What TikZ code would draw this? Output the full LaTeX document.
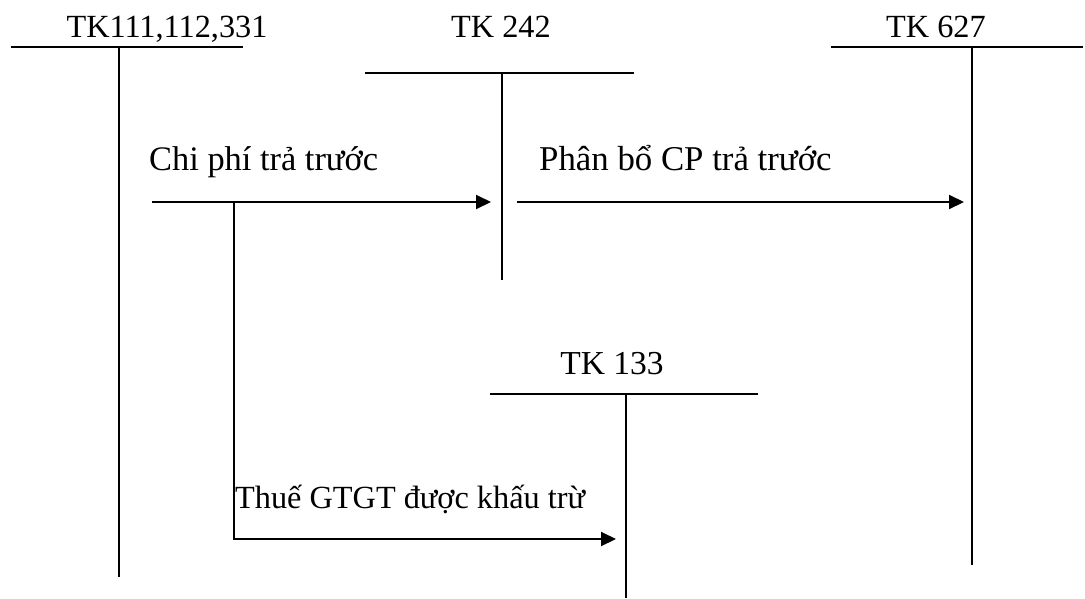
\documentclass[tikz,border=0pt]{standalone}
\usepackage{fontspec}
\setmainfont{Liberation Serif}
\usetikzlibrary{arrows.meta}
\tikzset{
  acct/.style={line width=2pt},
  flow/.style={line width=2pt,-{Triangle[length=15pt,width=14pt]}},
  lbl/.style={anchor=base,inner sep=0pt,font=\fontsize{32.3}{38}\selectfont},
  lblw/.style={anchor=base west,inner sep=0pt,font=\fontsize{32.3}{38}\selectfont}
}
\begin{document}
\begin{tikzpicture}[x=1pt,y=-1pt]
\useasboundingbox (0,0) rectangle (1085,598);
% account titles
\node[lbl] (t111) at (167,37) {TK111,112,331};
\node[lbl] (t242) at (501,37) {TK 242};
\node[lbl] (t627) at (936,37) {TK 627};
\node[lbl,font=\fontsize{33.5}{38}\selectfont] (t133) at (612,374) {TK 133};
% T-accounts
\draw[acct] (11,47) -- (243,47);
\draw[acct] (119,47) -- (119,577);
\draw[acct] (365,73) -- (634,73);
\draw[acct] (502,73) -- (502,280);
\draw[acct] (831,47) -- (1083,47);
\draw[acct] (972,47) -- (972,565);
\draw[acct] (490,394) -- (758,394);
\draw[acct] (626,394) -- (626,598);
% connector end points
\coordinate (a1s) at (152,202);
\coordinate (a1e) at (491,202);
\coordinate (a2s) at (517,202);
\coordinate (a2e) at (964,202);
\coordinate (br) at (234,202);
\coordinate (a3e) at (616,539);
% connectors
\draw[flow] (a1s) -- (a1e);
\draw[flow] (a2s) -- (a2e);
\draw[flow] (br) |- (a3e);
% connector labels
\node[lblw,font=\fontsize{34.4}{40}\selectfont] (l1) at (149,170) {Chi phí trả trước};
\node[lblw,font=\fontsize{34.8}{40}\selectfont] (l2) at (539,170) {Phân bổ CP trả trước};
\node[lblw] (l3) at (235,508) {Thuế GTGT được khấu trừ};
\end{tikzpicture}
\end{document}
